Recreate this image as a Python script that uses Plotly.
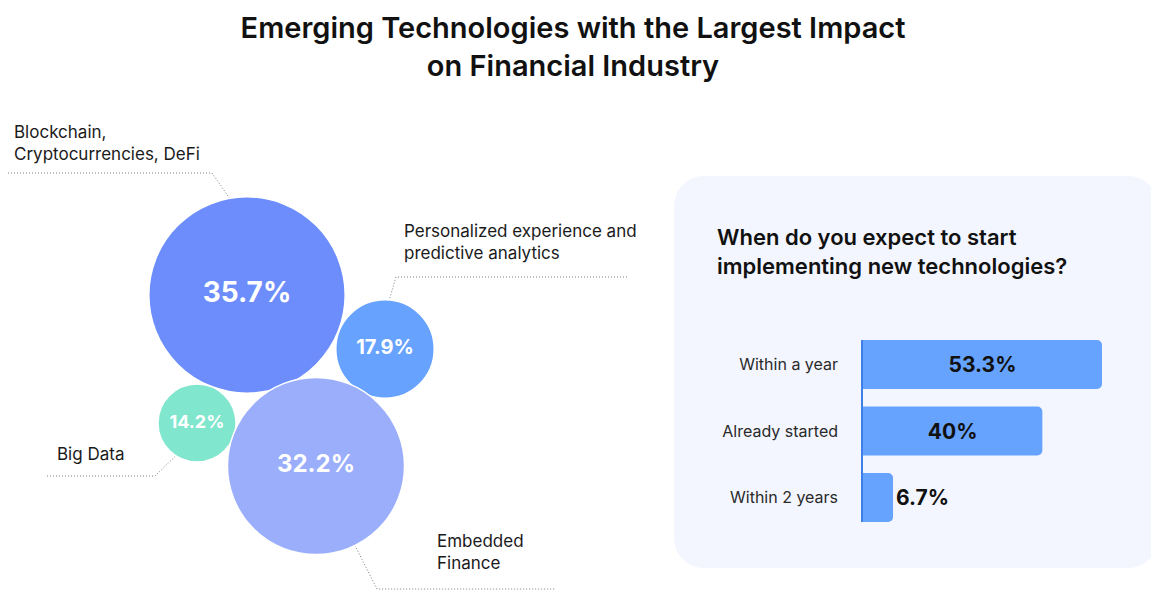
import plotly.graph_objects as go

W, H = 1159, 590
OX, OY = 8, 8  # page body margin offset

# ---- data ----
bubble_labels = ["Blockchain,<br>Cryptocurrencies, DeFi", "Personalized experience and<br>predictive analytics",
                 "Big Data", "Embedded<br>Finance"]
bubble_values = [35.7, 17.9, 14.2, 32.2]

bar_categories = ["Within a year", "Already started", "Within 2 years"]
bar_values = [53.3, 40, 6.7]

# ---- layout (page pixel positions, sizes, styles) ----
bubble_cx = [247, 385, 197, 316]
bubble_cy = [295, 349, 423, 466]
bubble_colors = ["#6C8DFB", "#67A3FE", "#80E6CD", "#9BAEFB"]
bubble_font = [28, 20, 18, 24]
px_per_unit = 5.5

label_pos = [(12, 143), (402, 242), (55, 454), (435, 552)]
leaders = [
    [(5, 173), (212, 173), (256, 236)],
    [(627, 277), (396, 277), (381, 328)],
    [(47, 476), (155, 476), (188, 444)],
    [(340, 516), (377, 589), (555, 589)],
]

FONT = "Inter, Roboto, sans-serif"


def px(x):
    return (x - OX) / W


def py(y):
    return 1 - (y - OY) / H


fig = go.Figure()

# leader lines
for pts in leaders:
    fig.add_trace(go.Scatter(
        x=[p[0] for p in pts], y=[p[1] for p in pts], mode="lines",
        line=dict(color="#7E7E7E", width=1, dash="1px,2px"),
        hoverinfo="skip", showlegend=False))

# bubbles
fig.add_trace(go.Scatter(
    x=bubble_cx, y=bubble_cy, mode="markers+text",
    marker=dict(size=bubble_values, sizemode="diameter", sizeref=1 / px_per_unit,
                color=bubble_colors, opacity=1, line=dict(color="white", width=1.5)),
    text=[f"{v}%" for v in bubble_values], textposition="middle center",
    textfont=dict(family=FONT, size=bubble_font, color="white", weight=700),
    hoverinfo="skip", showlegend=False))

# bubble labels
for lab, (lx, ly) in zip(bubble_labels, label_pos):
    fig.add_annotation(x=lx, y=ly, xref="x", yref="y", text=lab, showarrow=False,
                       xanchor="left", yanchor="middle", align="left",
                       font=dict(family=FONT, size=17, color="#1A1A1A"))

# bars
fig.add_trace(go.Bar(
    x=bar_values, y=bar_categories, orientation="h", xaxis="x2", yaxis="y2",
    marker=dict(color="#66A3FF", line=dict(width=0)),
    texttemplate="%{x}%", textposition=["inside", "inside", "outside"],
    insidetextanchor="middle", constraintext="none",
    textfont=dict(family=FONT, size=21, color="#111111", weight=700),
    hoverinfo="skip", showlegend=False, cliponaxis=False))

# panel
x0, y0, x1, y1, r = 674, 176, 1158, 568, 30
k = 0.55 * r
path = (f"M {x0+r},{y0} L {x1-r},{y0} C {x1-r+k},{y0} {x1},{y0+r-k} {x1},{y0+r} "
        f"L {x1},{y1-r} C {x1},{y1-r+k} {x1-r+k},{y1} {x1-r},{y1} "
        f"L {x0+r},{y1} C {x0+r-k},{y1} {x0},{y1-r+k} {x0},{y1-r} "
        f"L {x0},{y0+r} C {x0},{y0+r-k} {x0+r-k},{y0} {x0+r},{y0} Z")
fig.add_shape(type="path", path=path, xref="x", yref="y", layer="below",
              fillcolor="#F3F6FE", line=dict(width=0))

# panel title
fig.add_annotation(x=715, y=251, xref="x", yref="y",
                   text="When do you expect to start<br>implementing new technologies?",
                   showarrow=False, xanchor="left", yanchor="middle", align="left",
                   font=dict(family=FONT, size=22, color="#111111", weight=600))

BARGAP = 0.263
bar_left, bar_right = 863, 863 + 60 * (239 / 53.3)
bars_top, bars_bot = 340, 522
g = BARGAP / 2

fig.update_layout(
    width=W, height=H, margin=dict(l=0, r=0, t=0, b=0),
    paper_bgcolor="white", plot_bgcolor="rgba(0,0,0,0)",
    title=dict(text="Emerging Technologies with the Largest Impact<br>on Financial Industry",
               x=px(573), xanchor="center", y=py(38), yanchor="middle",
               font=dict(family=FONT, size=29, color="#111111", weight=600)),
    xaxis=dict(range=[OX, W + OX], domain=[0, 1], visible=False, fixedrange=True),
    yaxis=dict(range=[H + OY, OY], domain=[0, 1], visible=False, fixedrange=True),
    xaxis2=dict(range=[0, 60], domain=[px(bar_left), px(bar_right)], anchor="y2",
                visible=False, fixedrange=True),
    yaxis2=dict(domain=[py(bars_bot), py(bars_top)], anchor="x2",
                range=[2.5 - g, -0.5 + g], type="category",
                showline=True, linecolor="#3F7FE8", linewidth=1.5, showgrid=False,
                zeroline=False, ticks="outside", ticklen=20, tickcolor="rgba(0,0,0,0)",
                tickfont=dict(family=FONT, size=16, color="#2A2A2A"), fixedrange=True),
    bargap=BARGAP, barcornerradius=5,
)

fig.write_html("out.html")
